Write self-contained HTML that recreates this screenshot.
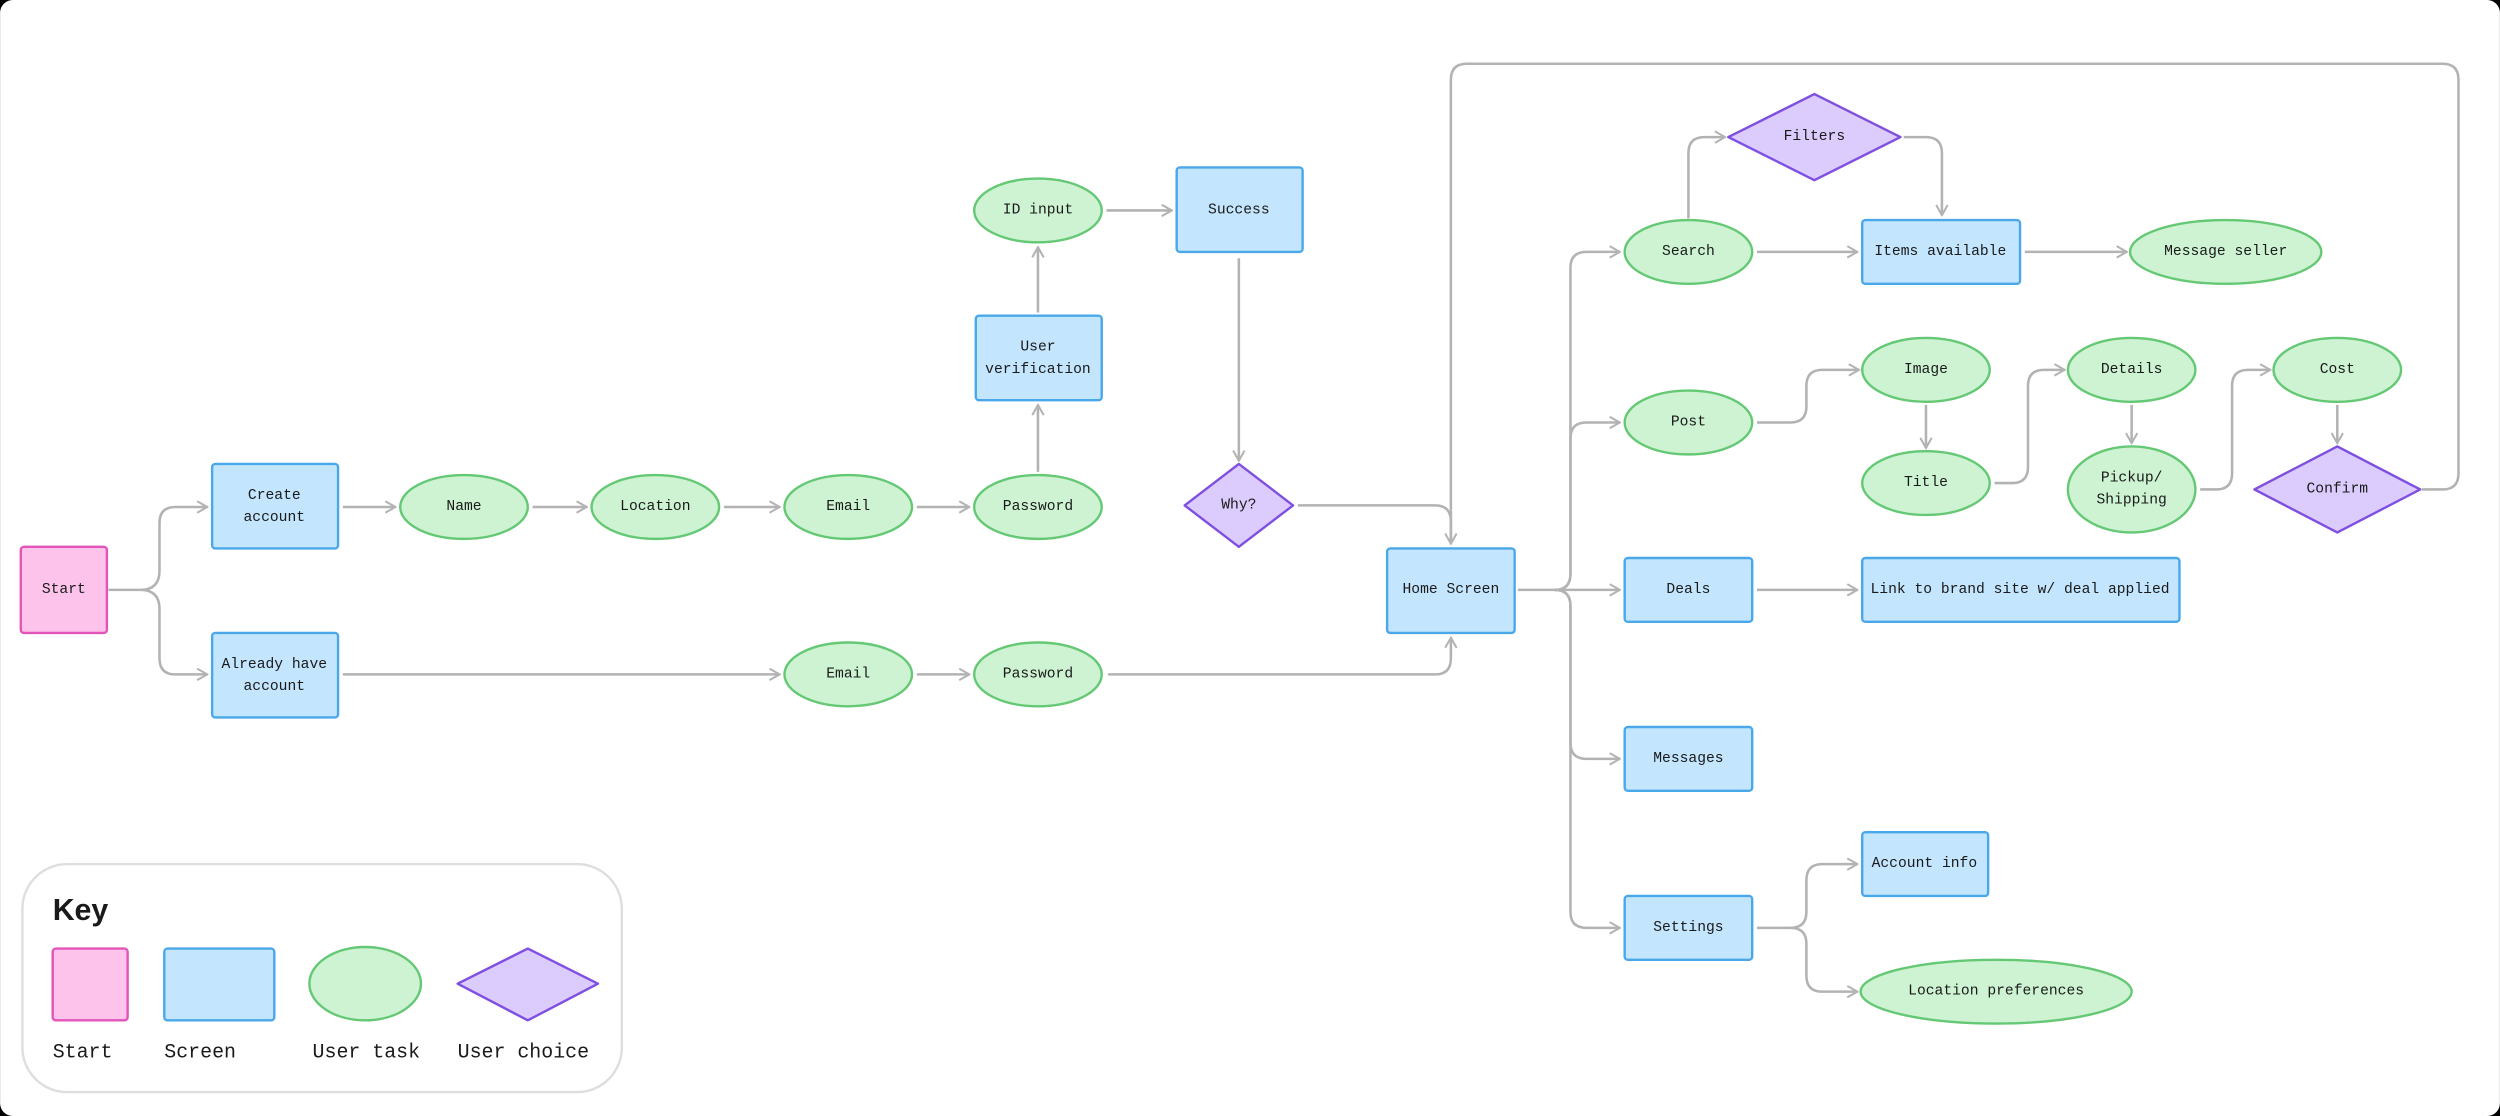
<!DOCTYPE html>
<html><head><meta charset="utf-8"><style>
html,body{margin:0;padding:0;background:#000;}
svg{display:block;}
text{font-family:"Liberation Mono","DejaVu Sans Mono",monospace;font-size:9.2px;fill:#1a1a1a;text-anchor:middle;dominant-baseline:central;}
.c{fill:none;stroke:#b3b3b3;stroke-width:1.6;marker-end:url(#a);}
.n{fill:none;stroke:#b3b3b3;stroke-width:1.6;}
.s{fill:#c3e5fd;stroke:#4aa8ea;stroke-width:1.5;}
.t{fill:#cdf3d3;stroke:#65c874;stroke-width:1.5;}
.d{fill:#dccbfd;stroke:#7e4fe0;stroke-width:1.5;stroke-linejoin:round;}
.p{fill:#fdc3eb;stroke:#e454b8;stroke-width:1.5;}
</style></head><body>
<svg width="2500" height="1116" viewBox="0 0 1568 700" xmlns="http://www.w3.org/2000/svg">
<defs><marker id="a" viewBox="0 0 10 10" refX="9" refY="5" markerWidth="8" markerHeight="8" orient="auto" markerUnits="userSpaceOnUse"><path d="M1,0.5 L9,5 L1,9.5" fill="none" stroke="#b3b3b3" stroke-width="1.6"/></marker></defs>
<rect x="0" y="0" width="1568" height="700" rx="8" fill="#fff"/>

<!-- connectors -->
<path class="n" d="M68,370 H88"/>
<path class="c" d="M88,370 Q100,370 100,358 V328 Q100,318 110,318 H130"/>
<path class="c" d="M88,370 Q100,370 100,382 V413 Q100,423 110,423 H130"/>
<path class="c" d="M215,318 H248"/>
<path class="c" d="M334,318 H368"/>
<path class="c" d="M454,318 H489"/>
<path class="c" d="M575,318 H608"/>
<path class="c" d="M651,296 V254"/>
<path class="c" d="M651,196 V155"/>
<path class="c" d="M694,132 H735"/>
<path class="c" d="M777,162 V289"/>
<path class="n" d="M814,317 H900 Q910,317 910,327 V341"/>
<path class="c" d="M910,320 V341"/>
<path class="c" d="M215,423 H489"/>
<path class="c" d="M575,423 H608"/>
<path class="c" d="M695,423 H900 Q910,423 910,413 V400"/>
<path class="n" d="M910,320 V50 Q910,40 920,40 H1532 Q1542,40 1542,50 V297 Q1542,307 1532,307 H1519"/>
<path class="n" d="M952,370 H975"/>
<path class="c" d="M975,370 Q985,370 985,360 V168 Q985,158 995,158 H1016"/>
<path class="c" d="M975,370 Q985,370 985,360 V275 Q985,265 995,265 H1016"/>
<path class="c" d="M975,370 H1016"/>
<path class="c" d="M975,370 Q985,370 985,380 V466 Q985,476 995,476 H1016"/>
<path class="c" d="M975,370 Q985,370 985,380 V572 Q985,582 995,582 H1016"/>
<path class="c" d="M1059,137 V96 Q1059,86 1069,86 H1082"/>
<path class="c" d="M1194,86 H1208 Q1218,86 1218,96 V135"/>
<path class="c" d="M1102,158 H1165"/>
<path class="c" d="M1270,158 H1334"/>
<path class="c" d="M1102,265 H1123 Q1133,265 1133,255 V242 Q1133,232 1143,232 H1166"/>
<path class="c" d="M1208,254 V281"/>
<path class="c" d="M1251,303 H1262 Q1272,303 1272,293 V242 Q1272,232 1282,232 H1295"/>
<path class="c" d="M1337,254 V278"/>
<path class="c" d="M1380,307 H1390 Q1400,307 1400,297 V242 Q1400,232 1410,232 H1424"/>
<path class="c" d="M1466,254 V278"/>
<path class="c" d="M1102,370 H1165"/>
<path class="c" d="M1102,582 H1123 Q1133,582 1133,572 V552 Q1133,542 1143,542 H1165"/>
<path class="c" d="M1123,582 Q1133,582 1133,592 V612 Q1133,622 1143,622 H1165"/>

<!-- nodes -->
<rect class="p" x="13" y="343" width="54" height="54" rx="2"/><text x="40" y="370">Start</text>
<rect class="s" x="133" y="291" width="79" height="53" rx="2"/><text x="172" y="311">Create</text><text x="172" y="325">account</text>
<rect class="s" x="133" y="397" width="79" height="53" rx="2"/><text x="172" y="417">Already have</text><text x="172" y="431">account</text>
<ellipse class="t" cx="291" cy="318" rx="40" ry="20"/><text x="291" y="318">Name</text>
<ellipse class="t" cx="411" cy="318" rx="40" ry="20"/><text x="411" y="318">Location</text>
<ellipse class="t" cx="532" cy="318" rx="40" ry="20"/><text x="532" y="318">Email</text>
<ellipse class="t" cx="651" cy="318" rx="40" ry="20"/><text x="651" y="318">Password</text>
<ellipse class="t" cx="532" cy="423" rx="40" ry="20"/><text x="532" y="423">Email</text>
<ellipse class="t" cx="651" cy="423" rx="40" ry="20"/><text x="651" y="423">Password</text>
<rect class="s" x="612" y="198" width="79" height="53" rx="2"/><text x="651" y="218">User</text><text x="651" y="232">verification</text>
<ellipse class="t" cx="651" cy="132" rx="40" ry="20"/><text x="651" y="132">ID input</text>
<rect class="s" x="738" y="105" width="79" height="53" rx="2"/><text x="777" y="132">Success</text>
<polygon class="d" points="777,291 811,317 777,343 743,317"/><text x="777" y="317">Why?</text>
<rect class="s" x="870" y="344" width="80" height="53" rx="2"/><text x="910" y="370">Home Screen</text>
<ellipse class="t" cx="1059" cy="158" rx="40" ry="20"/><text x="1059" y="158">Search</text>
<polygon class="d" points="1138,59 1192,86 1138,113 1084,86"/><text x="1138" y="86">Filters</text>
<rect class="s" x="1168" y="138" width="99" height="40" rx="2"/><text x="1217" y="158">Items available</text>
<ellipse class="t" cx="1396" cy="158" rx="60" ry="20"/><text x="1396" y="158">Message seller</text>
<ellipse class="t" cx="1059" cy="265" rx="40" ry="20"/><text x="1059" y="265">Post</text>
<ellipse class="t" cx="1208" cy="232" rx="40" ry="20"/><text x="1208" y="232">Image</text>
<ellipse class="t" cx="1208" cy="303" rx="40" ry="20"/><text x="1208" y="303">Title</text>
<ellipse class="t" cx="1337" cy="232" rx="40" ry="20"/><text x="1337" y="232">Details</text>
<ellipse class="t" cx="1337" cy="307" rx="40" ry="27"/><text x="1337" y="300">Pickup/</text><text x="1337" y="314">Shipping</text>
<ellipse class="t" cx="1466" cy="232" rx="40" ry="20"/><text x="1466" y="232">Cost</text>
<polygon class="d" points="1466,280 1518,307 1466,334 1414,307"/><text x="1466" y="307">Confirm</text>
<rect class="s" x="1019" y="350" width="80" height="40" rx="2"/><text x="1059" y="370">Deals</text>
<rect class="s" x="1168" y="350" width="199" height="40" rx="2"/><text x="1267" y="370">Link to brand site w/ deal applied</text>
<rect class="s" x="1019" y="456" width="80" height="40" rx="2"/><text x="1059" y="476">Messages</text>
<rect class="s" x="1019" y="562" width="80" height="40" rx="2"/><text x="1059" y="582">Settings</text>
<rect class="s" x="1168" y="522" width="79" height="40" rx="2"/><text x="1207" y="542">Account info</text>
<ellipse class="t" cx="1252" cy="622" rx="85" ry="20"/><text x="1252" y="622">Location preferences</text>

<!-- key -->
<rect x="14" y="542" width="376" height="143" rx="28" fill="#fff" stroke="#dedede" stroke-width="1.5"/>
<text x="33" y="571" style="font-family:'Liberation Sans',sans-serif;font-weight:bold;font-size:19px;text-anchor:start">Key</text>
<rect class="p" x="33" y="595" width="47" height="45" rx="2"/>
<rect class="s" x="103" y="595" width="69" height="45" rx="2"/>
<ellipse class="t" cx="229" cy="617" rx="35" ry="23"/>
<polygon class="d" points="331,595 375,617 331,640 287,617"/>
<text x="33" y="660" style="font-size:12.5px;text-anchor:start">Start</text>
<text x="103" y="660" style="font-size:12.5px;text-anchor:start">Screen</text>
<text x="196" y="660" style="font-size:12.5px;text-anchor:start">User task</text>
<text x="287" y="660" style="font-size:12.5px;text-anchor:start">User choice</text>
</svg>
</body></html>
